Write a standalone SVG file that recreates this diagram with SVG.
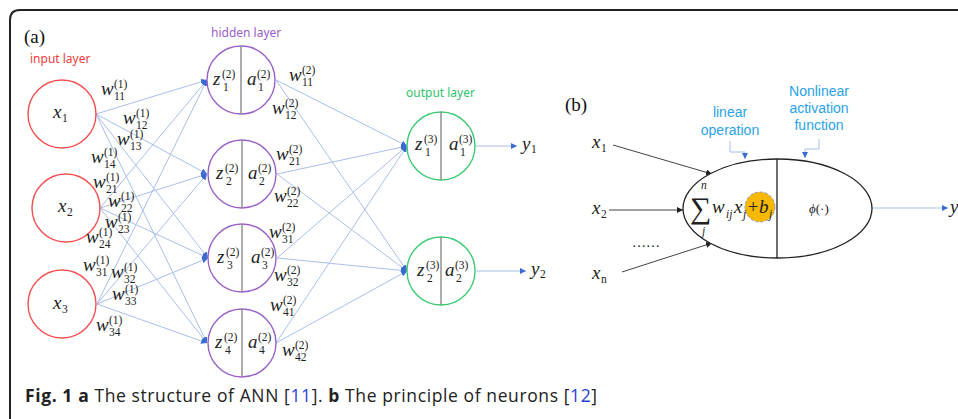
<svg xmlns="http://www.w3.org/2000/svg" width="958" height="419" viewBox="0 0 958 419">
<defs>
<marker id="ah" viewBox="0 0 8 8" refX="8" refY="4" markerWidth="6" markerHeight="6" orient="auto" markerUnits="userSpaceOnUse"><path d="M0,0 L8,4 L0,8 z" fill="#3a6bd1"/></marker>
<marker id="ahk" viewBox="0 0 8 8" refX="8" refY="4" markerWidth="6" markerHeight="6" orient="auto" markerUnits="userSpaceOnUse"><path d="M0,0 L8,4 L0,8 z" fill="#222"/></marker>
</defs>
<style>
.m{font-family:"Liberation Serif",serif;font-style:italic;font-size:19px;fill:#222}
.s{font-family:"Liberation Serif",serif;font-size:11.5px;fill:#222}
.lbl{font-family:"Noto Sans",sans-serif;font-size:12px}
.blue{font-family:"Liberation Sans",Arial,sans-serif;font-size:14px;fill:#29a3e6;text-anchor:middle}
.pan{font-family:"Liberation Serif",serif;font-size:19px;fill:#111}
.in{fill:none;stroke:#f25050;stroke-width:1.4}
.hid{fill:none;stroke:#9a62c8;stroke-width:1.4}
.out{fill:none;stroke:#3ccb74;stroke-width:1.4}
.div{stroke:#8a8a8a;stroke-width:1.4}
.c{stroke:#a9bfea;stroke-width:1;fill:none;marker-end:url(#ah)}
.k{stroke:#444;stroke-width:1;fill:none;marker-end:url(#ahk)}
.cap{font-family:"Open Sans",sans-serif;font-size:17.5px;fill:#222}
</style>
<rect width="958" height="419" fill="#fff"/>
<path d="M10,419 L10,20 Q10,10 20,10 L958,10" fill="none" stroke="#222" stroke-width="2"/>

<text class="pan" x="24" y="43">(a)</text>
<text class="lbl" x="30" y="63" fill="#f03c3c">input layer</text>
<text class="lbl" x="211" y="37" fill="#9a5dc8">hidden layer</text>
<text class="lbl" x="406" y="97" fill="#2fc36a">output layer</text>

<g id="connectors">
<line class="c" x1="96" y1="114" x2="207" y2="80"/>
<line class="c" x1="96" y1="114" x2="207" y2="174"/>
<line class="c" x1="96" y1="114" x2="208" y2="258"/>
<line class="c" x1="96" y1="114" x2="207" y2="343"/>
<line class="c" x1="100" y1="208" x2="207" y2="80"/>
<line class="c" x1="100" y1="208" x2="207" y2="174"/>
<line class="c" x1="100" y1="208" x2="208" y2="258"/>
<line class="c" x1="100" y1="208" x2="207" y2="343"/>
<line class="c" x1="97" y1="304" x2="207" y2="80"/>
<line class="c" x1="97" y1="304" x2="207" y2="174"/>
<line class="c" x1="97" y1="304" x2="208" y2="258"/>
<line class="c" x1="97" y1="304" x2="207" y2="343"/>
<line class="c" x1="276" y1="80" x2="407" y2="146"/>
<line class="c" x1="276" y1="80" x2="407" y2="271"/>
<line class="c" x1="277" y1="174" x2="407" y2="146"/>
<line class="c" x1="277" y1="174" x2="407" y2="271"/>
<line class="c" x1="277" y1="258" x2="407" y2="146"/>
<line class="c" x1="277" y1="258" x2="407" y2="271"/>
<line class="c" x1="276" y1="343" x2="407" y2="146"/>
<line class="c" x1="276" y1="343" x2="407" y2="271"/>
<line class="c" x1="476" y1="146" x2="517" y2="146"/>
<line class="c" x1="476" y1="271" x2="526" y2="271"/>
<line class="k" x1="613" y1="145" x2="712" y2="174"/>
<line class="k" x1="609" y1="210" x2="683" y2="210"/>
<line class="k" x1="622" y1="272" x2="712" y2="243"/>
<line class="c" x1="872" y1="208" x2="948" y2="208"/>
<polyline class="c" points="730,141 730,152 745,152 745,159"/>
<polyline class="c" points="819,139 819,149 805,149 805,158"/>
</g>

<g id="input1"><circle class="in" cx="62" cy="114" r="34"/><text class="m" x="53" y="118">x</text><text class="s" x="62" y="122">1</text></g>
<g id="input2"><circle class="in" cx="66" cy="208" r="34"/><text class="m" x="58" y="212">x</text><text class="s" x="67" y="216">2</text></g>
<g id="input3"><circle class="in" cx="62" cy="304" r="34"/><text class="m" x="53" y="309">x</text><text class="s" x="62" y="313">3</text></g>

<g id="hidden1"><circle class="hid" cx="241" cy="80" r="34"/><line class="div" x1="241" y1="46" x2="241" y2="114"/>
<text class="m" x="213" y="85">z</text><text class="s" x="222" y="78">(2)</text><text class="s" x="223" y="91">1</text>
<text class="m" x="247" y="85">a</text><text class="s" x="257" y="78">(2)</text><text class="s" x="258" y="91">1</text></g>
<g id="hidden2"><circle class="hid" cx="242" cy="174" r="34"/><line class="div" x1="242" y1="140" x2="242" y2="208"/>
<text class="m" x="216" y="179">z</text><text class="s" x="225" y="172">(2)</text><text class="s" x="226" y="185">2</text>
<text class="m" x="248" y="179">a</text><text class="s" x="258" y="172">(2)</text><text class="s" x="259" y="185">2</text></g>
<g id="hidden3"><circle class="hid" cx="242" cy="258" r="34"/><line class="div" x1="242" y1="224" x2="242" y2="292"/>
<text class="m" x="217" y="263">z</text><text class="s" x="226" y="256">(2)</text><text class="s" x="227" y="269">3</text>
<text class="m" x="251" y="263">a</text><text class="s" x="261" y="256">(2)</text><text class="s" x="262" y="269">3</text></g>
<g id="hidden4"><circle class="hid" cx="242" cy="343" r="34"/><line class="div" x1="242" y1="309" x2="242" y2="377"/>
<text class="m" x="215" y="348">z</text><text class="s" x="224" y="341">(2)</text><text class="s" x="225" y="354">4</text>
<text class="m" x="248" y="348">a</text><text class="s" x="258" y="341">(2)</text><text class="s" x="259" y="354">4</text></g>

<g id="output1"><circle class="out" cx="441" cy="146" r="34"/><line class="div" x1="441" y1="112" x2="441" y2="180"/>
<text class="m" x="415" y="150">z</text><text class="s" x="424" y="143">(3)</text><text class="s" x="425" y="156">1</text>
<text class="m" x="449" y="150">a</text><text class="s" x="459" y="143">(3)</text><text class="s" x="460" y="156">1</text></g>
<g id="output2"><circle class="out" cx="441" cy="271" r="34"/><line class="div" x1="441" y1="237" x2="441" y2="305"/>
<text class="m" x="417" y="276">z</text><text class="s" x="426" y="269">(3)</text><text class="s" x="427" y="282">2</text>
<text class="m" x="445" y="276">a</text><text class="s" x="455" y="269">(3)</text><text class="s" x="456" y="282">2</text></g>

<g id="y1"><text class="m" x="522" y="150">y</text><text class="s" x="531" y="153">1</text></g>
<g id="y2"><text class="m" x="531" y="275">y</text><text class="s" x="540" y="278">2</text></g>

<g id="weights">
<g transform="translate(101,95)"><text class="m">w</text><text class="s" x="13" y="-7">(1)</text><text class="s" x="13" y="4.5">11</text></g>
<g transform="translate(123,124)"><text class="m">w</text><text class="s" x="13" y="-7">(1)</text><text class="s" x="13" y="4.5">12</text></g>
<g transform="translate(117,145)"><text class="m">w</text><text class="s" x="13" y="-7">(1)</text><text class="s" x="13" y="4.5">13</text></g>
<g transform="translate(91,163)"><text class="m">w</text><text class="s" x="13" y="-7">(1)</text><text class="s" x="13" y="4.5">14</text></g>
<g transform="translate(93,188)"><text class="m">w</text><text class="s" x="13" y="-7">(1)</text><text class="s" x="13" y="4.5">21</text></g>
<g transform="translate(108,207)"><text class="m">w</text><text class="s" x="13" y="-7">(1)</text><text class="s" x="13" y="4.5">22</text></g>
<g transform="translate(105,228)"><text class="m">w</text><text class="s" x="13" y="-7">(1)</text><text class="s" x="13" y="4.5">23</text></g>
<g transform="translate(86,243)"><text class="m">w</text><text class="s" x="13" y="-7">(1)</text><text class="s" x="13" y="4.5">24</text></g>
<g transform="translate(83,271)"><text class="m">w</text><text class="s" x="13" y="-7">(1)</text><text class="s" x="13" y="4.5">31</text></g>
<g transform="translate(111,278)"><text class="m">w</text><text class="s" x="13" y="-7">(1)</text><text class="s" x="13" y="4.5">32</text></g>
<g transform="translate(112,300)"><text class="m">w</text><text class="s" x="13" y="-7">(1)</text><text class="s" x="13" y="4.5">33</text></g>
<g transform="translate(96,331)"><text class="m">w</text><text class="s" x="13" y="-7">(1)</text><text class="s" x="13" y="4.5">34</text></g>
<g transform="translate(289,81)"><text class="m">w</text><text class="s" x="13" y="-7">(2)</text><text class="s" x="13" y="4.5">11</text></g>
<g transform="translate(272,114)"><text class="m">w</text><text class="s" x="13" y="-7">(2)</text><text class="s" x="13" y="4.5">12</text></g>
<g transform="translate(276,160)"><text class="m">w</text><text class="s" x="13" y="-7">(2)</text><text class="s" x="13" y="4.5">21</text></g>
<g transform="translate(274,202)"><text class="m">w</text><text class="s" x="13" y="-7">(2)</text><text class="s" x="13" y="4.5">22</text></g>
<g transform="translate(269,238)"><text class="m">w</text><text class="s" x="13" y="-7">(2)</text><text class="s" x="13" y="4.5">31</text></g>
<g transform="translate(274,281)"><text class="m">w</text><text class="s" x="13" y="-7">(2)</text><text class="s" x="13" y="4.5">32</text></g>
<g transform="translate(270,311)"><text class="m">w</text><text class="s" x="13" y="-7">(2)</text><text class="s" x="13" y="4.5">41</text></g>
<g transform="translate(282,356)"><text class="m">w</text><text class="s" x="13" y="-7">(2)</text><text class="s" x="13" y="4.5">42</text></g>
</g>

<text class="pan" x="565" y="111">(b)</text>
<text class="blue" x="730" y="117">linear</text>
<text class="blue" x="730" y="135">operation</text>
<text class="blue" x="819" y="96">Nonlinear</text>
<text class="blue" x="819" y="113">activation</text>
<text class="blue" x="819" y="130">function</text>

<g id="bx1"><text class="m" x="592" y="148">x</text><text class="s" x="601" y="152">1</text></g>
<g id="bx2"><text class="m" x="592" y="214">x</text><text class="s" x="601" y="218">2</text></g>
<text x="632" y="247" font-family="Liberation Serif,serif" font-size="14" fill="#222">……</text>
<g id="bxn"><text class="m" x="592" y="279">x</text><text class="s" x="601" y="283">n</text></g>

<g id="neuron">
<ellipse cx="777.5" cy="208.5" rx="94.5" ry="49.5" fill="#fff" stroke="#222" stroke-width="1.3"/>
<line x1="777" y1="159" x2="777" y2="258" stroke="#222" stroke-width="1.3"/>
<circle cx="760" cy="207" r="15" fill="#f6b800" stroke="#8a9ab8" stroke-width="1" stroke-dasharray="3,2"/>
<text x="690" y="218" font-family="Liberation Serif,serif" font-size="30" fill="#222">∑</text>
<text class="s" x="701" y="189" font-style="italic">n</text>
<text class="s" x="702" y="235" font-style="italic">j</text>
<text class="m" x="712" y="213">w</text><text class="s" x="726" y="218" font-style="italic">ij</text>
<text class="m" x="734" y="213">x</text><text class="s" x="743" y="218" font-style="italic">j</text>
<text x="748" y="213" font-family="Liberation Serif,serif" font-size="18" fill="#222">+</text>
<text class="m" x="759" y="213">b</text><text class="s" x="769" y="218" font-style="italic">j</text>
<text x="809" y="213" font-family="Liberation Serif,serif" font-size="13" fill="#222"><tspan font-style="italic">ϕ</tspan>(·)</text>
</g>
<g id="by"><text class="m" x="950" y="213">y</text></g>

<text class="cap" x="25" y="402" textLength="572" lengthAdjust="spacing"><tspan font-weight="bold">Fig. 1 a</tspan> The structure of ANN [<tspan fill="#2a3fd8">11</tspan>]. <tspan font-weight="bold">b</tspan> The principle of neurons [<tspan fill="#2a3fd8">12</tspan>]</text>
</svg>
